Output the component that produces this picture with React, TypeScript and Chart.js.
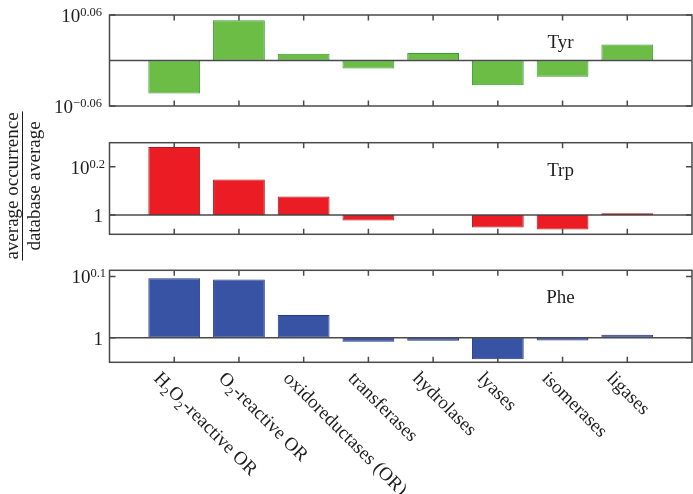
import { useEffect, useRef } from 'react';
import { Chart, registerables } from 'chart.js';

Chart.register(...registerables);

// ---------- data (log10 of ratio: average occurrence / database average) ----------
const categories = [
  'H2O2-reactive OR',
  'O2-reactive OR',
  'oxidoreductases (OR)',
  'transferases',
  'hydrolases',
  'lyases',
  'isomerases',
  'ligases',
];
const tyrValues = [-0.0435, 0.053, 0.0088, -0.0105, 0.01, -0.0325, -0.0215, 0.021];
const trpValues = [0.282, 0.147, 0.077, -0.023, 0, -0.052, -0.06, 0.007];
const pheValues = [0.097, 0.095, 0.037, -0.0065, -0.005, -0.035, -0.0045, 0.005];

const tyrRange = [-0.06, 0.06];
const trpRange = [-0.08, 0.3];
const pheRange = [-0.04, 0.11];

const tyrTicks = [-0.06, 0.06];
const trpTicks = [0, 0.2];
const pheTicks = [0, 0.1];

const panelNames = ['Tyr', 'Trp', 'Phe'];
const yTitleTop = 'average occurrence';
const yTitleBottom = 'database average';

// ---------- styling ----------
const W = 693;
const H = 494;
const SERIF = '"Liberation Serif", "Times New Roman", Times, serif';
const AXIS = '#4a4a4a';
const TEXT = '#1e1e1e';

type Panel = {
  name: string;
  values: number[];
  range: number[];
  ticks: number[];
  fill: string;
  edge: string;
  top: number;
  bottom: number;
  expRight: number;
  drawCategories: boolean;
  drawTitle: boolean;
};

const panels: Panel[] = [
  { name: panelNames[0], values: tyrValues, range: tyrRange, ticks: tyrTicks, fill: '#6bbd46', edge: '#3e9a3a', top: 15, bottom: 106, expRight: 102, drawCategories: false, drawTitle: false },
  { name: panelNames[1], values: trpValues, range: trpRange, ticks: trpTicks, fill: '#ec1c24', edge: '#a8181d', top: 142.7, bottom: 234.3, expRight: 105, drawCategories: false, drawTitle: true },
  { name: panelNames[2], values: pheValues, range: pheRange, ticks: pheTicks, fill: '#3953a4', edge: '#24398a', top: 270.3, bottom: 362.3, expRight: 106, drawCategories: true, drawTitle: false },
];

const LEFT = 109.5;
const RIGHT = 692;

function splitSub(label: string): { t: string; sub: boolean }[] {
  const parts: { t: string; sub: boolean }[] = [];
  let buf = '';
  for (let i = 0; i < label.length; i++) {
    const c = label[i];
    if (/\d/.test(c) && i > 0 && /[A-Z]/.test(label[i - 1])) {
      if (buf) parts.push({ t: buf, sub: false });
      buf = '';
      parts.push({ t: c, sub: true });
    } else {
      buf += c;
    }
  }
  if (buf) parts.push({ t: buf, sub: false });
  return parts;
}

function fmtExp(v: number): string {
  const s = Math.abs(v).toString();
  return (v < 0 ? '\u2212' : '') + s;
}

function makePlugin(p: Panel) {
  return {
    id: 'decor' + p.name,
    afterDatasetsDraw(chart: any) {
      const { ctx, chartArea: a, scales } = chart;
      const xs = scales.x;
      const ys = scales.y;
      ctx.save();

      // zero line (ratio = 1)
      ctx.strokeStyle = AXIS;
      ctx.lineWidth = 1.5;
      const y0 = ys.getPixelForValue(0);
      ctx.beginPath();
      ctx.moveTo(a.left, y0);
      ctx.lineTo(a.right, y0);
      ctx.stroke();

      // box
      ctx.strokeRect(a.left, a.top, a.right - a.left, a.bottom - a.top);

      // inward ticks
      ctx.beginPath();
      for (let i = 1; i <= categories.length; i++) {
        const x = xs.getPixelForValue(i);
        ctx.moveTo(x, a.top);
        ctx.lineTo(x, a.top + 5.5);
        ctx.moveTo(x, a.bottom);
        ctx.lineTo(x, a.bottom - 5.5);
      }
      for (const t of p.ticks) {
        const y = ys.getPixelForValue(t);
        ctx.moveTo(a.left, y);
        ctx.lineTo(a.left + 6, y);
        ctx.moveTo(a.right, y);
        ctx.lineTo(a.right - 6, y);
      }
      ctx.stroke();

      // y tick labels
      ctx.fillStyle = TEXT;
      ctx.textBaseline = 'alphabetic';
      for (const t of p.ticks) {
        const y = ys.getPixelForValue(t);
        if (t === 0) {
          ctx.font = `19px ${SERIF}`;
          ctx.textAlign = 'right';
          ctx.fillText('1', 103, y + 7);
        } else {
          const exp = fmtExp(t);
          ctx.font = `12.5px ${SERIF}`;
          const ew = ctx.measureText(exp).width;
          ctx.font = `19px ${SERIF}`;
          const bw = ctx.measureText('10').width;
          const x0 = p.expRight - ew - bw;
          ctx.textAlign = 'left';
          ctx.fillText('10', x0, y + 7);
          ctx.font = `12.5px ${SERIF}`;
          ctx.fillText(exp, x0 + bw, y + 1);
        }
      }

      // panel name
      ctx.font = `19px ${SERIF}`;
      ctx.textAlign = 'center';
      ctx.fillText(p.name, xs.getPixelForValue(7) - 2, a.top + 33);

      // category labels (rotated 45deg clockwise)
      if (p.drawCategories) {
        categories.forEach((label, i) => {
          const x = xs.getPixelForValue(i + 1);
          ctx.save();
          ctx.translate(x - 12, 370);
          ctx.rotate(Math.PI / 4);
          ctx.textAlign = 'left';
          let cx = 0;
          for (const part of splitSub(label)) {
            ctx.font = part.sub ? `12.5px ${SERIF}` : `19px ${SERIF}`;
            ctx.fillText(part.t, cx, part.sub ? 18 : 13);
            cx += ctx.measureText(part.t).width;
          }
          ctx.restore();
        });
      }

      // y-axis title as a fraction
      if (p.drawTitle) {
        const cy = 186;
        ctx.font = `19px ${SERIF}`;
        ctx.textAlign = 'center';
        const wTop = ctx.measureText(yTitleTop).width;
        ctx.save();
        ctx.translate(17.5, cy);
        ctx.rotate(-Math.PI / 2);
        ctx.fillText(yTitleTop, 0, 0);
        ctx.restore();
        ctx.save();
        ctx.translate(40, cy);
        ctx.rotate(-Math.PI / 2);
        ctx.fillText(yTitleBottom, 0, 0);
        ctx.restore();
        ctx.strokeStyle = TEXT;
        ctx.lineWidth = 1;
        ctx.beginPath();
        ctx.moveTo(22.5, cy - wTop / 2 - 1);
        ctx.lineTo(22.5, cy + wTop / 2 + 1);
        ctx.stroke();
      }

      ctx.restore();
    },
  };
}

function PanelChart({ panel }: { panel: Panel }) {
  const ref = useRef<HTMLCanvasElement | null>(null);
  useEffect(() => {
    let chart: Chart | null = null;
    let cancelled = false;
    const build = () => {
      if (cancelled || !ref.current) return;
      chart = new Chart(ref.current, {
        type: 'bar',
        data: {
          datasets: [
            {
              data: panel.values.map((v, i) => ({ x: i + 1, y: v })),
              backgroundColor: panel.fill,
              borderColor: panel.edge,
              borderWidth: 1,
              borderSkipped: false,
              barPercentage: 1,
              categoryPercentage: 0.8,
            },
          ],
        },
        options: {
          animation: false,
          responsive: false,
          devicePixelRatio: 1,
          layout: {
            padding: { left: LEFT, right: W - RIGHT, top: panel.top, bottom: H - panel.bottom },
          },
          plugins: { legend: { display: false }, tooltip: { enabled: false } },
          scales: {
            x: {
              type: 'linear',
              min: 0,
              max: categories.length + 1,
              offset: false,
              display: false,
              ticks: { stepSize: 1 },
              grid: { offset: false },
            },
            y: {
              type: 'linear',
              min: panel.range[0],
              max: panel.range[1],
              display: false,
              beginAtZero: false,
            },
          },
        } as any,
        plugins: [makePlugin(panel)],
      });
    };
    const fonts: any = (document as any).fonts;
    if (fonts && fonts.load) {
      Promise.all([
        fonts.load('19px "Liberation Serif"'),
        fonts.load('12.5px "Liberation Serif"'),
      ])
        .catch(() => undefined)
        .then(() => build());
    } else {
      build();
    }
    return () => {
      cancelled = true;
      if (chart) chart.destroy();
    };
  }, [panel]);
  return (
    <canvas
      ref={ref}
      width={W}
      height={H}
      style={{ position: 'absolute', left: 0, top: 0, width: W, height: H }}
    />
  );
}

export default function App() {
  return (
    <div style={{ position: 'absolute', left: 0, top: 0, width: W, height: H, background: '#fff' }}>
      {panels.map((p) => (
        <PanelChart key={p.name} panel={p} />
      ))}
    </div>
  );
}
